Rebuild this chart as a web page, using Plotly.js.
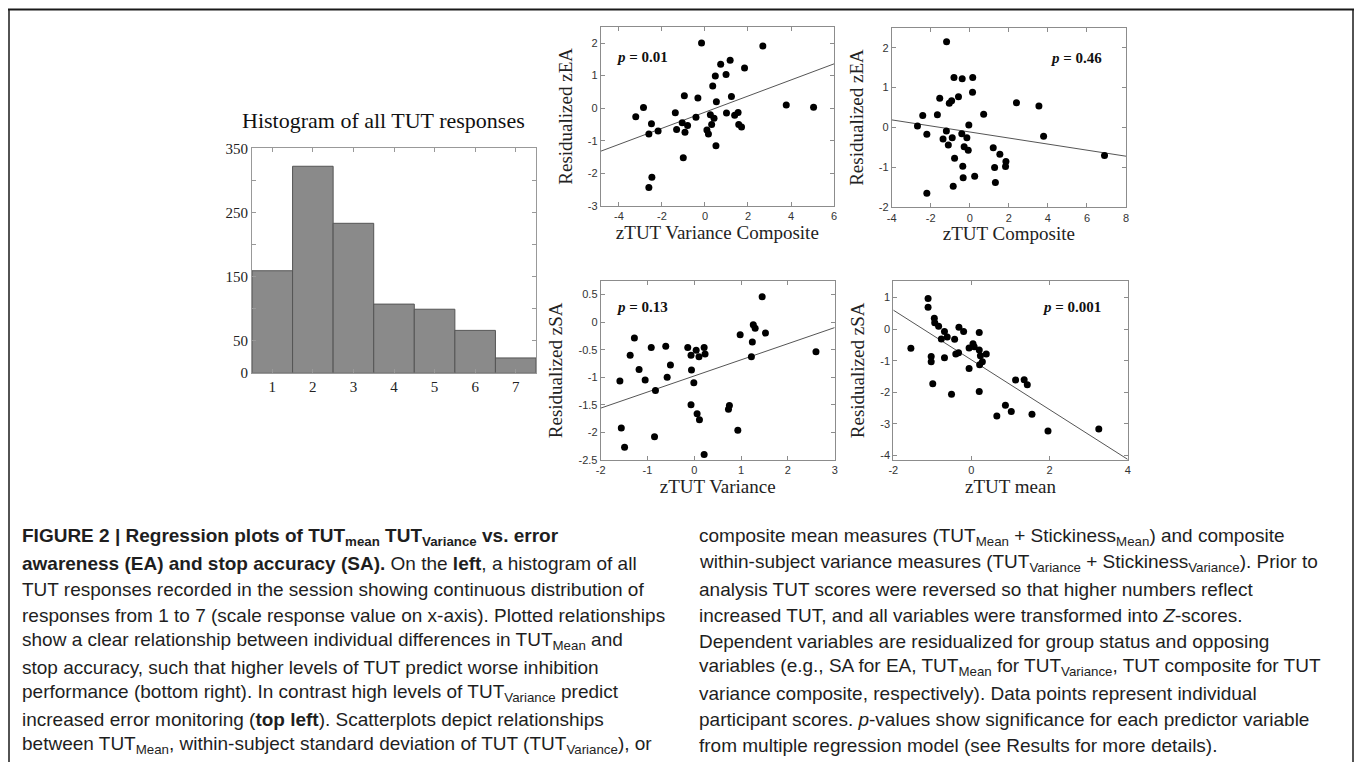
<!DOCTYPE html>
<html><head><meta charset="utf-8">
<script src="https://cdn.plot.ly/plotly-3.0.1.min.js"></script>
<style>html,body{margin:0;padding:0;background:#fff;} #chart{width:1355px;height:762px;}</style>
</head><body><div id="chart"></div>
<script>
const W = 1355, H = 762;

// ---------- Histogram of all TUT responses ----------
const histBins = [1, 2, 3, 4, 5, 6, 7];
const histCounts = [159, 322, 233, 107, 99, 66, 23];
const histYTicks = [0, 50, 150, 250, 350];
const histYTickText = ['0', '50', '150', '250', '350'];
const histYMinorTicks = [100, 200, 300];

// ---------- Panel A: zTUT Variance Composite vs Residualized zEA ----------
const aX = [-3.22,-2.86,-2.49,-2.61,-2.18,-2.47,-2.61,-1.38,-1.32,-1.06,-0.96,-0.81,-0.93,-1.01,-0.33,-0.42,-0.16,0.09,0.16,0.25,0.31,0.42,0.36,0.48,0.53,0.51,0.73,0.98,1.00,1.17,1.23,1.38,1.54,1.57,1.70,1.84,2.69,3.78,5.05];
const aY = [-0.26,0.02,-0.48,-0.79,-0.70,-2.12,-2.43,-0.14,-0.65,-0.45,0.38,-0.53,-0.74,-1.52,0.31,-0.28,2.00,-0.67,-0.79,-0.20,-0.50,-0.31,0.68,0.99,0.20,-1.15,1.35,1.03,-0.15,1.47,0.36,-0.22,-0.13,-0.50,-0.58,1.23,1.91,0.10,0.03];
const aFitX = [-4.85, 6];
const aFitY = [-1.32, 1.36];
const aXTicks = [-4, -2, 0, 2, 4, 6];
const aXTickText = ['-4', '-2', '0', '2', '4', '6'];
const aYTicks = [-3, -2, -1, 0, 1, 2];
const aYTickText = ['-3', '-2', '-1', '0', '1', '2'];

// ---------- Panel B: zTUT Composite vs Residualized zEA ----------
const bX = [-1.19,-2.68,-2.41,-2.20,-2.20,-1.66,-1.54,-1.37,-1.20,-1.10,-1.05,-0.93,-0.90,-0.81,-0.78,-0.85,-0.58,-0.39,-0.41,-0.29,-0.15,-0.08,-0.36,-0.34,-0.05,0.15,0.14,0.25,0.71,1.20,1.27,1.31,1.54,1.85,1.83,2.39,3.54,3.78,6.90];
const bY = [2.15,0.04,0.30,-0.17,-1.65,0.32,0.73,-0.29,-0.09,-0.44,0.61,0.67,-0.26,1.25,-0.77,-1.47,0.77,1.22,-0.16,-0.48,-0.26,-0.57,-0.97,-1.26,0.06,1.25,0.88,-1.22,0.33,-0.51,-1.00,-1.38,-0.67,-0.85,-0.98,0.62,0.54,-0.22,-0.70];
const bFitX = [-4, 8];
const bFitY = [0.19, -0.72];
const bXTicks = [-4, -2, 0, 2, 4, 6, 8];
const bXTickText = ['-4', '-2', '0', '2', '4', '6', '8'];
const bYTicks = [-2, -1, 0, 1, 2];
const bYTickText = ['-2', '-1', '0', '1', '2'];

// ---------- Panel C: zTUT Variance vs Residualized zSA ----------
const cX = [-1.59,-1.56,-1.37,-1.28,-1.18,-1.05,-0.92,-0.83,-0.85,-0.61,-0.58,-0.51,-0.14,-0.07,-0.07,0.04,0.10,-0.01,-0.06,0.06,0.11,0.21,0.23,0.73,0.75,0.93,0.98,1.22,1.24,1.26,1.30,1.45,1.52,2.60,-1.49,0.21];
const cY = [-1.07,-1.92,-0.60,-0.29,-0.86,-1.05,-0.46,-1.24,-2.08,-0.44,-1.00,-0.78,-0.46,-0.60,-1.50,-0.51,-0.63,-1.10,-0.87,-1.66,-1.77,-0.46,-0.58,-1.58,-1.51,-1.96,-0.23,-0.63,-0.36,-0.05,-0.11,0.46,-0.20,-0.54,-2.27,-2.40];
const cFitX = [-2, 3];
const cFitY = [-1.56, -0.10];
const cXTicks = [-2, -1, 0, 1, 2, 3];
const cXTickText = ['-2', '-1', '0', '1', '2', '3'];
const cYTicks = [-2.5, -2, -1.5, -1, -0.5, 0, 0.5];
const cYTickText = ['-2.5', '-2', '-1.5', '-1', '-0.5', '0', '0.5'];

// ---------- Panel D: zTUT mean vs Residualized zSA ----------
const dX = [-1.55,-1.11,-1.11,-1.03,-1.03,-0.99,-0.95,-0.94,-0.84,-0.77,-0.69,-0.69,-0.62,-0.51,-0.43,-0.40,-0.33,-0.32,-0.20,-0.06,-0.06,0.04,0.07,0.20,0.20,0.20,0.23,0.21,0.28,0.38,0.65,0.87,1.02,1.13,1.35,1.43,1.55,1.96,3.26];
const dY = [-0.61,0.97,0.69,-0.87,-1.03,-1.73,0.34,0.20,0.09,-0.31,-0.08,-0.91,-0.25,-2.06,-0.32,-0.79,-0.75,0.06,-0.08,-0.60,-1.25,-0.46,-0.56,-0.11,-0.66,-1.97,-0.84,-1.13,-1.03,-0.79,-2.75,-2.41,-2.61,-1.61,-1.60,-1.76,-2.69,-3.22,-3.16];
const dFitX = [-2, 4];
const dFitY = [0.60, -4.12];
const dXTicks = [-2, 0, 2, 4];
const dXTickText = ['-2', '0', '2', '4'];
const dYTicks = [-4, -3, -2, -1, 0, 1];
const dYTickText = ['-4', '-3', '-2', '-1', '0', '1'];

// ---------- Text ----------
const histTitle = 'Histogram of all TUT responses';
const panelXTitles = ['zTUT Variance Composite', 'zTUT Composite', 'zTUT Variance', 'zTUT mean'];
const panelYTitles = ['Residualized zEA', 'Residualized zEA', 'Residualized zSA', 'Residualized zSA'];
const pValues = ['<b><i>p</i> = 0.01</b>', '<b><i>p</i> = 0.46</b>', '<b><i>p</i> = 0.13</b>', '<b><i>p</i> = 0.001</b>'];
const captionLeft = [
  '<b>FIGURE 2 | Regression plots of TUT<sub>mean</sub> TUT<sub>Variance</sub> vs. error</b>',
  '<b>awareness (EA) and stop accuracy (SA).</b> On the <b>left</b>, a histogram of all',
  'TUT responses recorded in the session showing continuous distribution of',
  'responses from 1 to 7 (scale response value on x-axis). Plotted relationships',
  'show a clear relationship between individual differences in TUT<sub>Mean</sub> and',
  'stop accuracy, such that higher levels of TUT predict worse inhibition',
  'performance (bottom right). In contrast high levels of TUT<sub>Variance</sub> predict',
  'increased error monitoring (<b>top left</b>). Scatterplots depict relationships',
  'between TUT<sub>Mean</sub>, within-subject standard deviation of TUT (TUT<sub>Variance</sub>), or'
];
const captionRight = [
  'composite mean measures (TUT<sub>Mean</sub> + Stickiness<sub>Mean</sub>) and composite',
  'within-subject variance measures (TUT<sub>Variance</sub> + Stickiness<sub>Variance</sub>). Prior to',
  'analysis TUT scores were reversed so that higher numbers reflect',
  'increased TUT, and all variables were transformed into <i>Z</i>-scores.',
  'Dependent variables are residualized for group status and opposing',
  'variables (e.g., SA for EA, TUT<sub>Mean</sub> for TUT<sub>Variance</sub>, TUT composite for TUT',
  'variance composite, respectively). Data points represent individual',
  'participant scores. <i>p</i>-values show significance for each predictor variable',
  'from multiple regression model (see Results for more details).'
];

// ---------- helpers (pixel -> paper) ----------
const px = v => v / W;
const py = v => 1 - v / H;
const SERIF = 'Liberation Serif, Times New Roman, serif';
const SANS = 'Liberation Sans, Arial, Helvetica, sans-serif';
const AXC = '#8c8c8c';

function scatterAxis(domain, range, tv, tt, extra) {
  return Object.assign({
    domain: domain, range: range, autorange: false,
    showline: true, linecolor: AXC, linewidth: 1, mirror: 'ticks',
    ticks: 'inside', ticklen: 4, tickcolor: AXC, tickwidth: 1,
    showgrid: false, zeroline: false,
    tickvals: tv, ticktext: tt,
    tickfont: {family: SANS, size: 11, color: '#333'},
    fixedrange: true
  }, extra || {});
}

const traces = [];
traces.push({
  type: 'bar', x: histBins, y: histCounts, width: 1,
  marker: {color: '#8a8a8a', line: {color: '#555', width: 1}},
  xaxis: 'x', yaxis: 'y', hoverinfo: 'skip'
});
const panels = [
  [aX, aY, aFitX, aFitY, 2],
  [bX, bY, bFitX, bFitY, 3],
  [cX, cY, cFitX, cFitY, 4],
  [dX, dY, dFitX, dFitY, 5]
];
panels.forEach(p => {
  traces.push({type: 'scatter', mode: 'lines', x: p[2], y: p[3],
    line: {color: '#555', width: 1}, xaxis: 'x' + p[4], yaxis: 'y' + p[4], hoverinfo: 'skip'});
  traces.push({type: 'scatter', mode: 'markers', x: p[0], y: p[1],
    marker: {color: '#000', size: 7}, xaxis: 'x' + p[4], yaxis: 'y' + p[4]});
});

const titleFont = {family: SERIF, size: 19, color: '#222'};
const layout = {
  width: W, height: H, margin: {l: 0, r: 0, t: 0, b: 0},
  paper_bgcolor: '#fff', plot_bgcolor: '#fff', showlegend: false,
  xaxis: {
    domain: [px(252), px(536)], range: [0.5, 7.5], autorange: false,
    showline: true, linecolor: '#999', mirror: 'ticks', ticks: 'inside', ticklen: 4, tickcolor: '#999',
    showgrid: false, zeroline: false, tickvals: histBins, ticktext: histBins.map(String),
    tickfont: {family: SERIF, size: 15, color: '#222'}, fixedrange: true
  },
  yaxis: {
    domain: [py(372.7), py(148.3)], range: [0, 350], autorange: false,
    showline: true, linecolor: '#999', mirror: 'ticks', ticks: 'inside', ticklen: 4, tickcolor: '#999',
    showgrid: false, zeroline: false, tickvals: histYTicks, ticktext: histYTickText,
    minor: {tickvals: histYMinorTicks, ticks: 'inside', ticklen: 4, tickcolor: '#999', showgrid: false},
    tickfont: {family: SERIF, size: 15, color: '#222'}, fixedrange: true
  },
  xaxis2: scatterAxis([px(600.7), px(834)], [-4.85, 6], aXTicks, aXTickText, {anchor: 'y2', title: {text: panelXTitles[0], font: titleFont, standoff: 4}}),
  yaxis2: scatterAxis([py(206), py(26.7)], [-3, 2.5], aYTicks, aYTickText, {anchor: 'x2', title: {text: panelYTitles[0], font: titleFont, standoff: 10}}),
  xaxis3: scatterAxis([px(891.7), px(1126)], [-4, 8], bXTicks, bXTickText, {anchor: 'y3', title: {text: panelXTitles[1], font: titleFont, standoff: 4}}),
  yaxis3: scatterAxis([py(207.3), py(27.7)], [-2, 2.5], bYTicks, bYTickText, {anchor: 'x3', title: {text: panelYTitles[1], font: titleFont, standoff: 10}}),
  xaxis4: scatterAxis([px(600.7), px(834.7)], [-2, 3], cXTicks, cXTickText, {anchor: 'y4', title: {text: panelXTitles[2], font: titleFont, standoff: 4}}),
  yaxis4: scatterAxis([py(460), py(280.7)], [-2.5, 0.75], cYTicks, cYTickText, {anchor: 'x4', title: {text: panelYTitles[2], font: titleFont, standoff: 10}}),
  xaxis5: scatterAxis([px(893.3), px(1127.7)], [-2, 4], dXTicks, dXTickText, {anchor: 'y5', title: {text: panelXTitles[3], font: titleFont, standoff: 4}}),
  yaxis5: scatterAxis([py(460), py(280.7)], [-4.14, 1.53], dYTicks, dYTickText, {anchor: 'x5', title: {text: panelYTitles[3], font: titleFont, standoff: 10}}),
  annotations: [],
  shapes: [
    {type: 'line', xref: 'paper', yref: 'paper', x0: px(8), x1: px(1354), y0: py(9.5), y1: py(9.5), line: {color: '#1a1a1a', width: 2}},
    {type: 'line', xref: 'paper', yref: 'paper', x0: px(9), x1: px(9), y0: py(9), y1: py(762), line: {color: '#1a1a1a', width: 1.5}},
    {type: 'line', xref: 'paper', yref: 'paper', x0: px(1353), x1: px(1353), y0: py(9), y1: py(762), line: {color: '#1a1a1a', width: 1.5}}
  ]
};

// histogram title
layout.annotations.push({xref: 'paper', yref: 'paper', x: px(383), y: py(121), xanchor: 'center', yanchor: 'middle',
  text: histTitle, showarrow: false, font: {family: SERIF, size: 22, color: '#111'}});

// p-values
const pPos = [[614, 56.7], [1048, 58], [614, 307], [1040, 307]];
pValues.forEach((t, i) => layout.annotations.push({xref: 'paper', yref: 'paper', x: px(pPos[i][0]), y: py(pPos[i][1]),
  xanchor: 'left', yanchor: 'middle', text: t, showarrow: false, font: {family: SERIF, size: 15, color: '#111'}}));

// caption
const capFont = {family: SANS, size: 19, color: '#1e1e1e'};
captionLeft.forEach((t, i) => layout.annotations.push({xref: 'paper', yref: 'paper', x: px(20), y: py(537 + 26 * i),
  xanchor: 'left', yanchor: 'middle', text: t, showarrow: false, font: capFont}));
captionRight.forEach((t, i) => layout.annotations.push({xref: 'paper', yref: 'paper', x: px(697), y: py(537 + 26 * i),
  xanchor: 'left', yanchor: 'middle', text: t, showarrow: false, font: capFont}));

Plotly.newPlot('chart', traces, layout, {displayModeBar: false, staticPlot: true});
</script>
</body></html>
